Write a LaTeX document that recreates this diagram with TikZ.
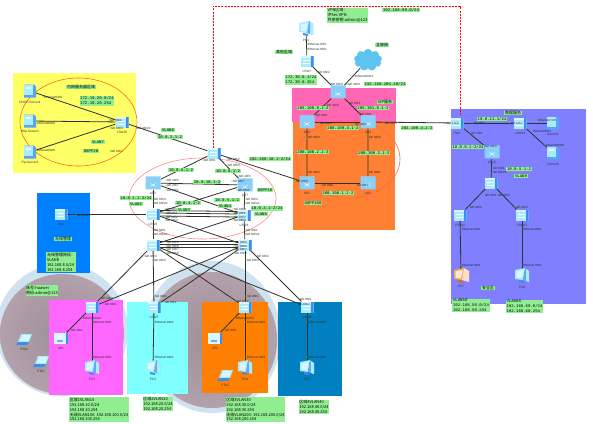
\documentclass[tikz,border=0pt]{standalone}
\usepackage{fontspec}
\setmainfont{Liberation Sans}
\newfontfamily\cjk{Noto Sans CJK SC}
\newfontfamily\mono{Liberation Mono}
\usetikzlibrary{shapes.geometric,shapes.symbols}
\pgfdeclarelayer{bg}\pgfdeclarelayer{edges}\pgfsetlayers{bg,edges,main}
\definecolor{gbox}{HTML}{90EE90}
\definecolor{ice}{HTML}{A8ECFF}
\definecolor{sky}{HTML}{3F8CF0}
\definecolor{pale}{HTML}{D8F6FF}
\definecolor{ringb}{HTML}{CFE2F0}
\definecolor{lnk}{HTML}{303030}
\definecolor{yellowarea}{HTML}{FFFF66}
\pgfdeclareradialshading{discshade}{\pgfpointorigin}{rgb(0bp)=(.62,.56,.60); rgb(25bp)=(.70,.63,.67); rgb(50bp)=(.87,.80,.84)}
\tikzset{
  lk/.style={draw=lnk,line width=.8pt},
  tag/.style={fill=gbox,inner sep=.6pt,font=\cjk\fontsize{4}{4.9}\selectfont,align=left},
  numtag/.style={fill=gbox,inner sep=.6pt,font=\mono\fontsize{4}{4.9}\selectfont,align=left},
  port/.style={font=\fontsize{3}{3.5}\selectfont,inner sep=0,anchor=west,text=black!85},
  dot/.style={circle,fill=green!70!yellow!85!black,inner sep=0,minimum size=1.4pt},
  dlabel/.style={font=\fontsize{3.2}{3.6}\selectfont,inner sep=0,text=black!80},
  swbox/.style={rectangle,minimum width=13pt,minimum height=11pt,inner sep=0,fill=ice,
    path picture={\fill[sky] ([xshift=-2.5pt]path picture bounding box.north east) rectangle (path picture bounding box.south east);
      \fill[pale] (path picture bounding box.north west) rectangle ([xshift=-2.5pt,yshift=-2pt]path picture bounding box.north east);
      \draw[white,line width=.4pt] ([xshift=2pt,yshift=-5pt]path picture bounding box.north west) -- ([xshift=-4pt,yshift=-5pt]path picture bounding box.north east);
      \draw[white,line width=.4pt] ([xshift=2pt,yshift=3pt]path picture bounding box.south west) -- ([xshift=-4pt,yshift=3pt]path picture bounding box.south east);}},
  rtbox/.style={cylinder,shape border rotate=90,aspect=.6,minimum width=15pt,minimum height=13pt,inner sep=0,
    cylinder uses custom fill,cylinder body fill=ice!70!sky,cylinder end fill=pale},
  ghost/.style={rectangle,minimum width=11pt,minimum height=13pt,inner sep=0},
}
\newcount\autoid
\newcommand{\ppt}[3]{\global\advance\autoid by 1
  \node[dot] (d\the\autoid) at (#1,#2) {};
  \node[port] (t\the\autoid) at (#1+.8,#2) {#3};}
\newcommand{\gbx}[3]{\global\advance\autoid by 1
  \node[tag] (g\the\autoid) at (#1,#2) {#3};}
\newcommand{\nbx}[3]{\global\advance\autoid by 1
  \node[numtag] (g\the\autoid) at (#1,#2) {#3};}
\newcommand{\dlb}[3]{\global\advance\autoid by 1
  \node[dlabel] (l\the\autoid) at (#1,#2) {#3};}
\newcommand{\nsw}[4]{\node[swbox] (#1) at (#2,#3) {}; \dlb{#2}{#3+10.5}{#4}}
\newcommand{\nrt}[4]{\node[rtbox] (#1) at (#2,#3) {};
  \draw[white,line width=.45pt] (#2-2.5,#3+3.5) -- (#2+2.5,#3+.5) (#2-2.5,#3+.5) -- (#2+2.5,#3+3.5);
  \dlb{#2}{#3+10.5}{#4}}
\newcommand{\npc}[4]{\node[ghost] (#1) at (#2,#3) {};
  \begin{scope}[shift={(#2,#3)}]
   \fill[ice] (-7,-6) -- (3,-8) -- (1,4) -- (-7,3) -- cycle;
   \fill[pale] (-5.5,-4.5) -- (1.8,-6) -- (0,2.5) -- (-5.5,1.7) -- cycle;
   \fill[sky!70!ice] (3,-8) -- (7,-5) -- (7,6) -- (1,4) -- cycle;
   \fill[ice] (4,-7) -- (7,-5) -- (7,6) -- (4,5) -- cycle;
   \fill[sky] (-3,4) -- (2,5) -- (2,7) -- (-3,6) -- cycle;
  \end{scope}\dlb{#2}{#3+11}{#4}}
\newcommand{\npo}[4]{\node[ghost] (#1) at (#2,#3) {};
  \begin{scope}[shift={(#2,#3)}]
   \fill[orange!70] (-7,-6) -- (3,-8) -- (1,4) -- (-7,3) -- cycle;
   \fill[orange!15] (-5.5,-4.5) -- (1.8,-6) -- (0,2.5) -- (-5.5,1.7) -- cycle;
   \fill[orange!25] (3,-8) -- (8,-5) -- (8,6) -- (1,4) -- cycle;
   \fill[orange!85!black] (-3,4) -- (2,5) -- (2,7) -- (-3,6) -- cycle;
  \end{scope}\dlb{#2}{#3+10}{#4}}
\newcommand{\nsv}[4]{\node[ghost] (#1) at (#2,#3) {};
  \begin{scope}[shift={(#2,#3)}]
   \fill[sky!75!ice] (-6,-6.5) -- (4,-6.5) -- (6,-4.5) -- (6,6.5) -- (-6,6.5) -- cycle;
   \fill[ice] (-6,-6.5) -- (3,-6.5) -- (3,4) -- (-6,4) -- cycle;
   \fill[white,opacity=.7] (-4,-4) rectangle (1,-2);
  \end{scope}\dlb{#2}{#3+11}{#4}}
\newcommand{\nap}[4]{\node[ghost] (#1) at (#2,#3) {};
  \begin{scope}[shift={(#2,#3)}]
   \fill[sky] (-7,-5) rectangle (7,6);
   \fill[pale] (-7,-5) rectangle (5,6);
   \fill[sky!60!ice] (-4,2) rectangle (2,3.5);
   \fill[white] (-1.5,-3) rectangle (-.5,1);
  \end{scope}\dlb{#2}{#3+10.5}{#4}}
\newcommand{\nst}[4]{\node[ghost,minimum height=9pt,minimum width=14pt] (#1) at (#2,#3) {};
  \begin{scope}[shift={(#2,#3)}]
   \fill[ice] (-3,-5) -- (8,-5) -- (5,3) -- (-6,3) -- cycle;
   \fill[pale] (-1.5,-3.8) -- (6.4,-3.8) -- (4,2) -- (-4,2) -- cycle;
   \fill[sky] (-6,3) -- (5,3) -- (3,6) -- (-8,6) -- cycle;
  \end{scope}\dlb{#2}{#3+10}{#4}}
\begin{document}
\begin{tikzpicture}[x=1pt,y=-1pt]
\useasboundingbox (0,0) rectangle (593,423);
\begin{pgfonlayer}{bg}
 \fill[white] (0,0) rectangle (593,423);
 % large shaded discs
 \fill[ringb] (62,330) ellipse [x radius=66,y radius=66];
 \path[shading=discshade] (62,334) ellipse [x radius=62,y radius=60];
 \fill[ringb] (212,337) ellipse [x radius=69,y radius=76];
 \path[shading=discshade] (212,340) ellipse [x radius=65,y radius=68];
 % areas
 \fill[yellowarea] (13,73) rectangle (136,173);
 \draw[orange!70!red!90,line width=.6pt] (78.5,122) ellipse [x radius=58.5,y radius=44];
 \fill[fill={rgb,255:red,0;green,128;blue,255}] (37,193) rectangle (90,273);
 \fill[fill={rgb,255:red,255;green,102;blue,179}] (292,88) rectangle (396,122);
 \fill[fill={rgb,255:red,255;green,128;blue,51}] (293,122) rectangle (395,230);
 \draw[red!70!orange!70,line width=.6pt] (348,159) ellipse [x radius=52,y radius=39];
 \fill[fill={rgb,255:red,127;green,127;blue,255}] (451,109) rectangle (586,304);
 \draw[red!45,line width=.6pt] (202.5,198.5) ellipse [x radius=73.5,y radius=40.5];
 \fill[fill={rgb,255:red,255;green,102;blue,255}] (49,300) rectangle (123,395);
 \fill[fill={rgb,255:red,128;green,255;blue,255}] (127,302) rectangle (188,394);
 \fill[fill={rgb,255:red,255;green,128;blue,0}] (202,302) rectangle (268,393);
 \fill[fill={rgb,255:red,0;green,128;blue,192}] (278,302) rectangle (342,396);
 \draw[red,line width=.8pt,dash pattern=on 2pt off 1.2pt] (213,148) -- (213,6) -- (460,6) -- (460,116);
\end{pgfonlayer}
% ---------- devices
\nsv{dhcp}{30}{91}{DHCP-Server1}
\nsv{http}{30}{121}{Http-Server2}
\nsv{ftp}{30}{152}{Ftp-Server3}
\nsw{lswten}{122}{122}{LSW10}
\nsw{lswone}{214}{153}{}
\nrt{corel}{153}{183}{AR5}
\nrt{corer}{245}{185}{AR7}
\nsw{distl}{153}{214}{LSW2}
\nsw{distr}{244}{215}{LSW3}
\nsw{accl}{153}{245}{}
\nsw{accr}{245}{245}{}
\nsw{acone}{61}{214}{AC1}
\nsw{lsix}{92}{307}{}
\nsw{lseven}{154}{307}{LSW7}
\nsw{leight}{245}{307}{}
\nsw{lnine}{307}{307}{LSW9}
\nap{apone}{61}{338}{AP1}
\nap{aptwo}{215}{338}{AP2}
\npc{pctwo}{92}{368}{PC2}
\npc{pcthree}{153}{368}{PC3}
\npc{pcfour}{245}{368}{PC4}
\npc{pcfive}{307}{368}{PC5}
\nst{stafour}{24}{339}{STA4}
\nst{staone}{41}{361}{STA1}
\nst{statwo}{225}{375}{STA2}
\npc{pcone}{306}{29}{PC1}
\nsw{ltop}{307}{61}{LSW?}
\node[cloud,cloud puffs=9,aspect=1.3,fill=cyan!45!ice,inner sep=0,minimum width=28pt,minimum height=22pt] (net) at (368,60) {};
\nrt{arisp}{338}{92}{}
\nrt{arthree}{307}{122}{AR3}
\nrt{arfour}{368}{122}{AR4}
\nrt{arone}{307}{183}{AR1}
\nrt{artwo}{368}{183}{AR2}
\nsw{fw}{457}{123}{FW1}
\nsw{lfour}{520}{123}{LSW14}
\nsv{svone}{553}{123}{Server1}
\nsv{svfive}{553}{153}{Server5}
\nrt{arten}{492}{152}{AR10}
\nsw{lelev}{491}{183}{}
\nsw{ltwel}{460}{215}{LSW12}
\nsw{lthir}{522}{215}{LSW13}
\npo{pcseven}{461}{276}{PC7}
\npc{pceight}{522}{276}{PC8}
% ---------- connectors
\begin{pgfonlayer}{edges}
\draw[lk] (dhcp) -- (lswten); \draw[lk] (http) -- (lswten); \draw[lk] (ftp) -- (lswten);
\draw[lk] (lswten) -- (lswone);
\draw[lk] (lswone) -- (corel); \draw[lk] (lswone) -- (corer);
\draw[lk] (lswone) -- (arone);
\draw[lk] (corel) -- (corer);
\draw[lk] (corel) -- (distr); \draw[lk] (corer) -- (distl);
\draw[lk] (corel) -- (distl); \draw[lk] (corer) -- (distr);
\draw[lk] ([yshift=-2pt]distl.east) -- ([yshift=-2pt]distr.west);
\draw[lk] ([yshift=1pt]distl.east) -- ([yshift=1pt]distr.west);
\draw[lk] ([yshift=3.5pt]distl.east) -- ([yshift=3.5pt]distr.west);
\draw[lk] (distl) -- (accl); \draw[lk] (distr) -- (accr);
\draw[lk] (distl) -- (accr); \draw[lk] (distr) -- (accl);
\draw[lk] ([yshift=-2pt]accl.east) -- ([yshift=-2pt]accr.west);
\draw[lk] ([yshift=1pt]accl.east) -- ([yshift=1pt]accr.west);
\draw[lk] ([yshift=3.5pt]accl.east) -- ([yshift=3.5pt]accr.west);
\draw[lk] (acone) -- (distl);
\draw[lk] (accl) -- (lsix); \draw[lk] (accl) -- (lseven); \draw[lk] (accl) -- (leight); \draw[lk] (accl) -- (lnine);
\draw[lk] (accr) -- (lsix); \draw[lk] (accr) -- (lseven); \draw[lk] (accr) -- (leight); \draw[lk] (accr) -- (lnine);
\draw[lk] (lsix) -- (pctwo); \draw[lk] (lseven) -- (pcthree); \draw[lk] (leight) -- (pcfour); \draw[lk] (lnine) -- (pcfive);
\draw[lk] (lsix) -- (apone); \draw[lk] (leight) -- (aptwo);
\draw[lk] (pcone) -- (ltop); \draw[lk] (ltop) -- (arisp); \draw[lk] (net) -- (arisp);
\draw[lk] (arisp) -- (arthree); \draw[lk] (arisp) -- (arfour);
\draw[lk] (arthree) -- (arfour); \draw[lk] (arfour) -- (fw);
\draw[lk] (arthree) -- (arone); \draw[lk] (arfour) -- (artwo); \draw[lk] (arone) -- (artwo);
\draw[lk] (fw) -- (lfour); \draw[lk] (lfour) -- (svone); \draw[lk] (lfour) -- (svfive);
\draw[lk] (fw) -- (arten); \draw[lk] (arten) -- (lelev);
\draw[lk] (lelev) -- (ltwel); \draw[lk] (lelev) -- (lthir);
\draw[lk] (ltwel) -- (pcseven); \draw[lk] (lthir) -- (pceight);
\end{pgfonlayer}
% ---------- port labels
\ppt{43}{97}{Ethernet0/0/0}\ppt{36}{123}{Ethernet0/0/0}\ppt{36}{150}{Ethernet0/0/0}
\ppt{109}{120}{GE 0/0/1}\ppt{110}{128}{GE 0/0/3}\ppt{110}{151}{GE 0/0/2}\ppt{136}{128}{GE 0/0/24}
\ppt{227}{159}{GE 0/0/2}\ppt{203}{160}{GE 0/0/1}\ppt{227}{165}{GE 0/0/3}\ppt{295}{181}{GE 0/0/0}
\ppt{166}{180}{GE 4/0/5}\ppt{166}{185.5}{GE 4/0/7}\ppt{166}{190}{GE 0/0/1}
\ppt{238}{176}{GE 4/0/5}\ppt{232}{181}{GE 4/0/7}\ppt{237}{190}{GE 0/0/1}
\ppt{153}{199}{GE 0/0/3}\ppt{153}{203}{GE 0/0/24}\ppt{245}{199}{GE 0/0/3}\ppt{245}{203}{GE 0/0/24}
\ppt{153}{230}{GE 0/0/1}\ppt{153}{234}{GE 0/0/24}\ppt{245}{230}{GE 0/0/1}\ppt{245}{234}{GE 0/0/24}
\ppt{165}{209}{GE 0/0/3}\ppt{165}{213}{GE 0/0/1}\ppt{165}{217}{GE 0/0/2}\ppt{165}{220}{GE 0/0/4}
\ppt{233}{209}{GE 0/0/3}\ppt{233}{213}{GE 0/0/1}\ppt{233}{217}{GE 0/0/2}\ppt{233}{220}{GE 0/0/4}
\ppt{166}{242}{GE 0/0/5}\ppt{166}{246}{GE 0/0/6}\ppt{166}{249}{GE 0/0/7}\ppt{166}{253}{GE 0/0/8}
\ppt{234}{242}{GE 0/0/5}\ppt{234}{246}{GE 0/0/6}\ppt{234}{249}{GE 0/0/7}\ppt{234}{253}{GE 0/0/8}
\ppt{144}{256}{GE 0/0/4}\ppt{153}{260}{GE 0/0/3}\ppt{256}{256}{GE 0/0/4}\ppt{246}{260}{GE 0/0/3}
\ppt{100}{298}{GE 0/0/2}\ppt{104}{304}{GE 0/0/1}\ppt{154}{296}{GE 0/0/2}\ppt{164}{302}{GE 0/0/1}
\ppt{236}{301}{GE 0/0/2}\ppt{246}{296}{GE 0/0/1}\ppt{299}{299}{GE 0/0/1}\ppt{297}{304}{GE 0/0/2}
\ppt{92}{322}{Ethernet 0/0/1}\ppt{92}{357}{Ethernet 0/0/1}\ppt{154}{322}{Ethernet 0/0/1}\ppt{154}{357}{Ethernet 0/0/1}
\ppt{246}{322}{Ethernet 0/0/1}\ppt{246}{357}{Ethernet 0/0/1}\ppt{307}{322}{Ethernet 0/0/1}\ppt{307}{357}{Ethernet 0/0/1}
\ppt{82}{318}{Ethernet0/0/2}\ppt{70}{330}{GE 0/0/1}\ppt{235}{318}{Ethernet0/0/2}\ppt{224}{330}{GE 0/0/1}
\ppt{76}{215}{GE 0/0/24}
\ppt{307}{44}{Ethernet 0/0/1}\ppt{307}{49}{Ethernet 0/0/1}\ppt{317}{72}{GE 0/0/2}\ppt{330}{84}{GE 0/0/3}
\ppt{354}{76}{Ethernet0/0/1}\ppt{347}{84}{GE 4/0/0}\ppt{326}{105}{GE 0/0/0}\ppt{315}{115}{GE 0/0/1}
\ppt{348}{103}{GE 0/0/1}\ppt{359}{114}{GE 0/0/1}
\ppt{319}{123}{GE 4/0/3}\ppt{354}{124}{GE 4/0/2}\ppt{384}{123}{GE 4/0/0}\ppt{446}{123}{GE 1/0/0}
\ppt{307}{137}{GE 0/0/0}\ppt{307}{172}{GE 0/0/2}\ppt{368}{137}{GE 0/0/0}\ppt{368}{172}{GE 0/0/1}
\ppt{321}{185}{GE 0/0/1}\ppt{356}{185}{GE 0/0/0}
\ppt{472}{123}{GE 0/0/1}\ppt{510}{123}{GE 0/0/2}\ppt{537}{120}{Ethernet0/0/0}\ppt{532}{131}{Ethernet0/0/1}\ppt{545}{145}{Ethernet0/0/0}
\ppt{470}{133}{GE 1/0/2}\ppt{484}{146}{GE 0/0/3}\ppt{492}{168}{GE 0/0/1}\ppt{492}{172.5}{GE 0/0/24}
\ppt{484}{195}{GE 0/0/1}\ppt{497}{195}{GE 0/0/2}\ppt{469}{207}{GE 0/0/2}\ppt{515}{207}{GE 0/0/2}
\ppt{461}{229}{Ethernet 0/0/1}\ppt{461}{265}{Ethernet 0/0/1}\ppt{522}{229}{Ethernet 0/0/1}\ppt{522}{265}{Ethernet 0/0/1}
% ---------- green tags
\gbx{81}{87}{内网服务器区域}
\nbx{97}{101}{172.19.20.0/24\\172.19.20.254}
\nbx{98}{142}{VLAN7}\nbx{91}{151}{OSPF20}\nbx{168}{130}{VLAN6}\nbx{170}{137}{10.0.2.1-2}
\nbx{181}{170}{10.0.6.1-2}\nbx{228}{171}{10.0.8.1-2}\nbx{207}{182}{10.0.10.1-2}
\nbx{136}{198}{10.0.1.1-2/24}\nbx{136}{204}{VLAN2}
\nbx{188}{203}{10.0.4.1-2}\nbx{184}{210}{VLAN3}\nbx{227}{200}{10.0.5.1-2}\nbx{225}{206}{VLAN4}
\nbx{267}{208.5}{10.0.3.1-2/24}\nbx{261}{214}{VLAN5}\nbx{265}{190}{OSPF10}
\nbx{270}{159}{202.100.10.1-2/24}
\gbx{347.5}{15.5}{VPN区域：\\IPSec VPN\\共享密钥:admin@123}
\nbx{401}{10}{192.168.99.0/24}
\gbx{284}{52}{其他区域}\gbx{382}{45}{互联网}
\nbx{301}{80}{172.30.0.1/24\\172.30.0.254}
\nbx{385}{84}{192.168.204.10/24}
\gbx{385}{102}{ISP服务}
\nbx{313}{108}{205.100.8.1-2}\nbx{373}{108}{205.101.8.1-2}
\nbx{343}{128}{200.100.4.1-2}\nbx{417}{128}{202.100.4.1-2}
\nbx{313}{152}{200.100.2.1-2}\nbx{374}{153}{200.100.3.1-2}
\nbx{338}{193}{200.100.1.1-2}\nbx{313}{203}{OSPF100}
\gbx{513}{113}{数据服务}
\nbx{492}{119}{10.0.11.1/24}\nbx{468}{147}{10.0.9.1-2/24}
\nbx{519}{169}{10.0.5.1-2}\nbx{521}{176}{VLAN9}
\gbx{488}{288}{安全区}
\nbx{471}{305.5}{VLAN50\\192.168.50.0/24\\192.168.50.254}
\nbx{524.5}{306.5}{VLAN60\\192.168.60.0/24\\192.168.60.254}
\gbx{63}{239}{无线管理}
\gbx{61}{262}{无线管理网段：\\VLAN8\\192.168.8.0/24\\192.168.8.254}
\gbx{42}{290.5}{账号:huawei\\密码:admin@123}
\gbx{99}{409.5}{区域1VLAN10\\192.168.10.0/24\\192.168.10.254\\无线VLAN100: 192.168.100.0/24\\192.168.100.254}
\gbx{158}{404}{区域2VLAN20\\192.168.20.0/24\\192.168.20.254}
\gbx{255.5}{409.5}{区域3VLAN30\\192.168.30.0/24\\192.168.30.254\\无线VLAN200: 192.168.200.0/24\\192.168.200.254}
\gbx{314}{407}{区域4VLAN40\\192.168.40.0/24\\192.168.40.254}
\end{tikzpicture}
\end{document}
